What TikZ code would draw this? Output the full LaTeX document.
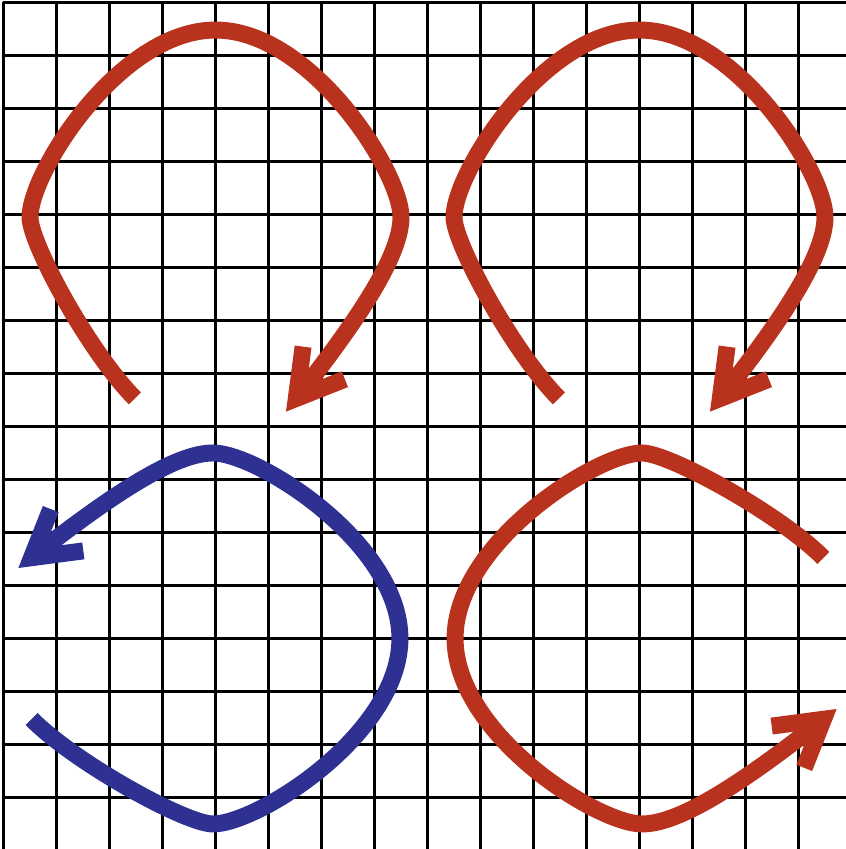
\documentclass[tikz,border=0pt]{standalone}
\usepackage{xcolor}
\usetikzlibrary{arrows.meta}
\definecolor{curlred}{RGB}{184,50,30}
\definecolor{curlblue}{RGB}{46,49,146}
\tikzset{
  gridln/.style={line width=1.1pt, draw=black},
  curl/.style={line width=3.2mm, line cap=butt,
               -{Straight Barb[sharp, length=8.5mm, width=10mm]}}
}
% one open loop around the origin, gap at the bottom, arrow on the right
\newcommand{\curlshape}{(-1.52,-3.47) .. controls (-2.37,-2.62) and (-3.5,-0.55) .. (-3.5,-0.05)
  .. controls (-3.5,0.8) and (-1.8,3.48) .. (0,3.48)
  .. controls (1.8,3.48) and (3.5,0.8) .. (3.5,-0.05)
  .. controls (3.5,-0.75) and (2.75,-1.9) .. (1.33,-3.72)}

\begin{document}
\begin{tikzpicture}
\useasboundingbox (-0.066,0.028) rectangle (15.896,16.047);
\draw[gridln] (0,0) grid (16,16);
% upper row
\draw[curl, draw=curlred, shift={(4,12)}] \curlshape;
\draw[curl, draw=curlred, shift={(12,12)}] \curlshape;
% lower row, mirrored copies
\draw[curl, draw=curlblue, cm={0,1,1,0,(4,4)}] \curlshape;
\draw[curl, draw=curlred, cm={0,-1,-1,0,(12,4)}] \curlshape;
\end{tikzpicture}
\end{document}
